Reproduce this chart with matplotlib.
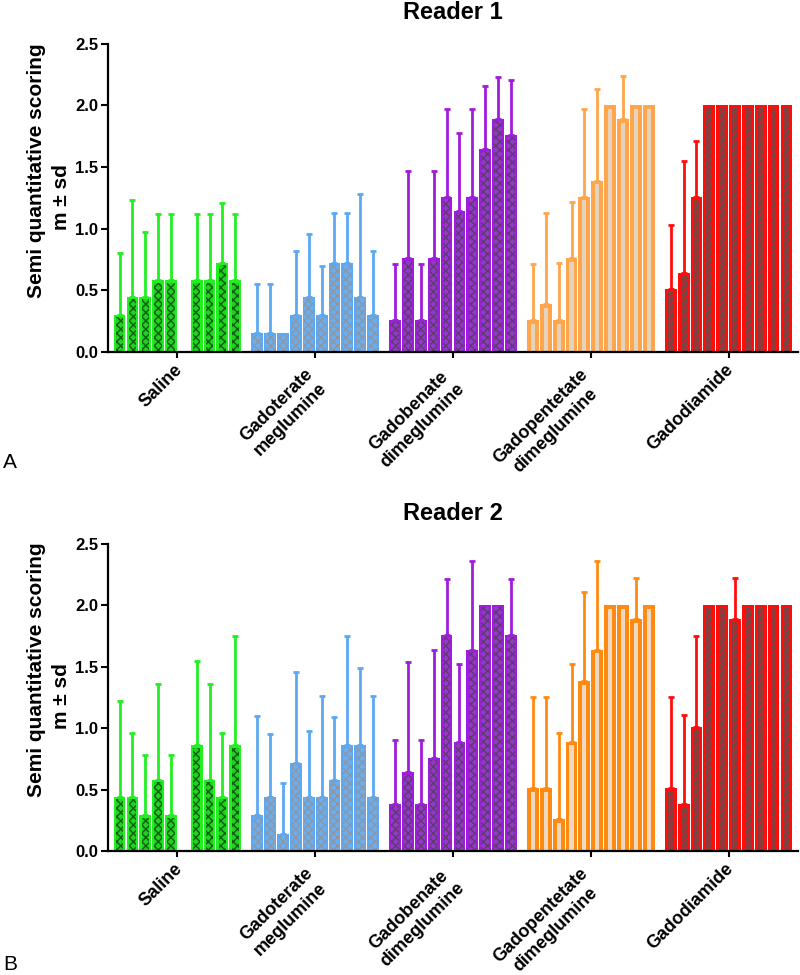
import numpy as np
import matplotlib
matplotlib.use("Agg")
import matplotlib.pyplot as plt
from matplotlib.transforms import ScaledTranslation

plt.rcParams['font.family'] = ['Liberation Sans', 'DejaVu Sans']
plt.rcParams['hatch.linewidth'] = 1.0

groups = ["Saline", "Gadoterate\nmeglumine", "Gadobenate\ndimeglumine",
          "Gadopentetate\ndimeglumine", "Gadodiamide"]
yticks = [0.0, 0.5, 1.0, 1.5, 2.0, 2.5]

# ---- Reader 1 (means and sd) ----
r1_saline_m = [0.30, 0.45, 0.45, 0.58, 0.58, 0.58, 0.58, 0.72, 0.58]
r1_saline_sd = [0.50, 0.78, 0.52, 0.54, 0.54, 0.54, 0.54, 0.49, 0.54]
r1_gadoterate_m = [0.15, 0.15, 0.15, 0.30, 0.45, 0.30, 0.72, 0.72, 0.45, 0.30]
r1_gadoterate_sd = [0.40, 0.40, 0.00, 0.52, 0.51, 0.40, 0.41, 0.41, 0.83, 0.52]
r1_gadobenate_m = [0.26, 0.76, 0.26, 0.76, 1.26, 1.14, 1.26, 1.65, 1.89, 1.76]
r1_gadobenate_sd = [0.45, 0.71, 0.45, 0.71, 0.71, 0.64, 0.71, 0.51, 0.34, 0.45]
r1_gadopentetate_m = [0.26, 0.39, 0.26, 0.76, 1.26, 1.39, 2.00, 1.89, 2.00, 2.00]
r1_gadopentetate_sd = [0.45, 0.74, 0.46, 0.46, 0.71, 0.74, 0.00, 0.35, 0.00, 0.00]
r1_gadodiamide_m = [0.51, 0.64, 1.26, 2.00, 2.00, 2.00, 2.00, 2.00, 2.00, 2.00]
r1_gadodiamide_sd = [0.52, 0.91, 0.45, 0.00, 0.00, 0.00, 0.00, 0.00, 0.00, 0.00]

# ---- Reader 2 (means and sd) ----
r2_saline_m = [0.44, 0.44, 0.29, 0.58, 0.29, 0.86, 0.58, 0.44, 0.86]
r2_saline_sd = [0.78, 0.52, 0.49, 0.78, 0.49, 0.69, 0.78, 0.52, 0.89]
r2_gadoterate_m = [0.29, 0.44, 0.14, 0.72, 0.44, 0.44, 0.58, 0.86, 0.86, 0.44]
r2_gadoterate_sd = [0.81, 0.51, 0.41, 0.74, 0.54, 0.82, 0.51, 0.89, 0.63, 0.82]
r2_gadobenate_m = [0.38, 0.64, 0.38, 0.76, 1.76, 0.89, 1.64, 2.00, 2.00, 1.76]
r2_gadobenate_sd = [0.52, 0.90, 0.52, 0.88, 0.45, 0.63, 0.72, 0.00, 0.00, 0.45]
r2_gadopentetate_m = [0.51, 0.51, 0.26, 0.89, 1.38, 1.64, 2.00, 2.00, 1.89, 2.00]
r2_gadopentetate_sd = [0.74, 0.74, 0.70, 0.63, 0.73, 0.72, 0.00, 0.00, 0.33, 0.00]
r2_gadodiamide_m = [0.51, 0.38, 1.01, 2.00, 2.00, 1.89, 2.00, 2.00, 2.00, 2.00]
r2_gadodiamide_sd = [0.74, 0.73, 0.74, 0.00, 0.00, 0.33, 0.00, 0.00, 0.00, 0.00]

# styles: (main colour, inner face, hatch colour, hatch)
styles_r1 = [("#22EE22", "#22D022", "#0E5E0E", "xxxx"),
             ("#5CA8F2", "#6AAEEF", "#8E96A2", "xxxx"),
             ("#A01CDC", "#9438C8", "#5E3A70", "xxxx"),
             ("#FFA54C", "#E6D3BE", "#E6D3BE", ""),
             ("#FF0D0D", "#7E4444", "#C82020", "////")]
styles_r2 = [("#22EE22", "#22D022", "#0E5E0E", "xxxx"),
             ("#5CA8F2", "#6AAEEF", "#8E96A2", "xxxx"),
             ("#A01CDC", "#9438C8", "#5E3A70", "xxxx"),
             ("#FF8A12", "#F0D9C2", "#F0D9C2", ""),
             ("#FF0D0D", "#7E4444", "#C82020", "////")]
border_px = [2.2, 1.5, 2.2, 3.8, 3.0]

GROUP_STRIDE = 10.72
SLOTS = 10
skip = {0: 5}  # empty slot in Saline group
BAR_W = 0.92

fig = plt.figure(figsize=(8, 9.75), dpi=100)
ax1 = fig.add_axes([0.135, 0.639, 0.8625, 0.316])
ax2 = fig.add_axes([0.135, 0.1272, 0.8625, 0.315])

xmin, xmax = -0.4, 4 * GROUP_STRIDE + SLOTS + 0.4
ymin, ymax = 0, 2.5


def draw(ax, data, styles, title, title_pad):
    ax.set_xlim(xmin, xmax)
    ax.set_ylim(ymin, ymax)
    bbox = ax.get_position()
    px_x = (bbox.width * 800) / (xmax - xmin)
    px_y = (bbox.height * 975) / (ymax - ymin)
    for g, (means, sds) in enumerate(data):
        main, inner, hcol, hatch = styles[g]
        slots = [s for s in range(SLOTS) if s != skip.get(g, -1)][:len(means)]
        x = np.array([g * GROUP_STRIDE + s + 0.5 for s in slots])
        m = np.array(means)
        sd = np.array(sds)
        has = sd > 0
        ax.errorbar(x[has], m[has], yerr=[np.zeros(has.sum()), sd[has]], fmt='none',
                    ecolor=main, elinewidth=2.0, capsize=2.2, capthick=2.0, zorder=2)
        ax.bar(x, m, width=BAR_W, color=main, linewidth=0, zorder=3)
        bx = border_px[g] / px_x
        by = border_px[g] / px_y
        ax.bar(x, np.maximum(m - by, 0), width=BAR_W - 2 * bx, color=inner,
               edgecolor=hcol, linewidth=0, hatch=hatch, zorder=4)
    centers = [g * GROUP_STRIDE + SLOTS / 2 for g in range(len(groups))]
    ax.set_xticks(centers)
    ax.set_xticklabels([])
    for c, txt in zip(centers, groups):
        n = txt.count("\n") + 1
        dy = 15 if n == 1 else 27
        tr = ax.get_xaxis_transform() + ScaledTranslation(2 / 100, -dy / 100, fig.dpi_scale_trans)
        ax.text(c, 0, txt, transform=tr, fontsize=13, fontweight='bold', rotation=45,
                ha='right', va='center', rotation_mode='anchor',
                multialignment='center', linespacing=1.25)
    ax.set_yticks(yticks)
    ax.set_yticklabels([f"{v:.1f}" for v in yticks], fontsize=12, fontweight='bold')
    ax.tick_params(axis='x', length=4, width=1.5, pad=0)
    ax.tick_params(axis='y', length=5, width=1.5, pad=2)
    for s in ['top', 'right']:
        ax.spines[s].set_visible(False)
    for s in ['left', 'bottom']:
        ax.spines[s].set_linewidth(1.6)
        ax.spines[s].set_zorder(6)
    # y label (two lines, placed as in the reference)
    ax.text(-0.103, 0.59, "Semi quantitative scoring", transform=ax.transAxes,
            rotation=90, fontsize=15, fontweight='bold', ha='center', va='center')
    ax.text(-0.067, 0.503, "m ± sd", transform=ax.transAxes,
            rotation=90, fontsize=15, fontweight='bold', ha='center', va='center')
    ax.set_title(title, fontsize=17, fontweight='bold', pad=title_pad)


data_r1 = [(r1_saline_m, r1_saline_sd), (r1_gadoterate_m, r1_gadoterate_sd),
           (r1_gadobenate_m, r1_gadobenate_sd), (r1_gadopentetate_m, r1_gadopentetate_sd),
           (r1_gadodiamide_m, r1_gadodiamide_sd)]
data_r2 = [(r2_saline_m, r2_saline_sd), (r2_gadoterate_m, r2_gadoterate_sd),
           (r2_gadobenate_m, r2_gadobenate_sd), (r2_gadopentetate_m, r2_gadopentetate_sd),
           (r2_gadodiamide_m, r2_gadodiamide_sd)]

draw(ax1, data_r1, styles_r1, "Reader 1", 18)
draw(ax2, data_r2, styles_r2, "Reader 2", 17)

fig.text(0.004, 1 - 462 / 975, "A", fontsize=15, va='center', ha='left')
fig.text(0.004, 1 - 964 / 975, "B", fontsize=15, va='center', ha='left')

fig.savefig("out.png", dpi=100)
